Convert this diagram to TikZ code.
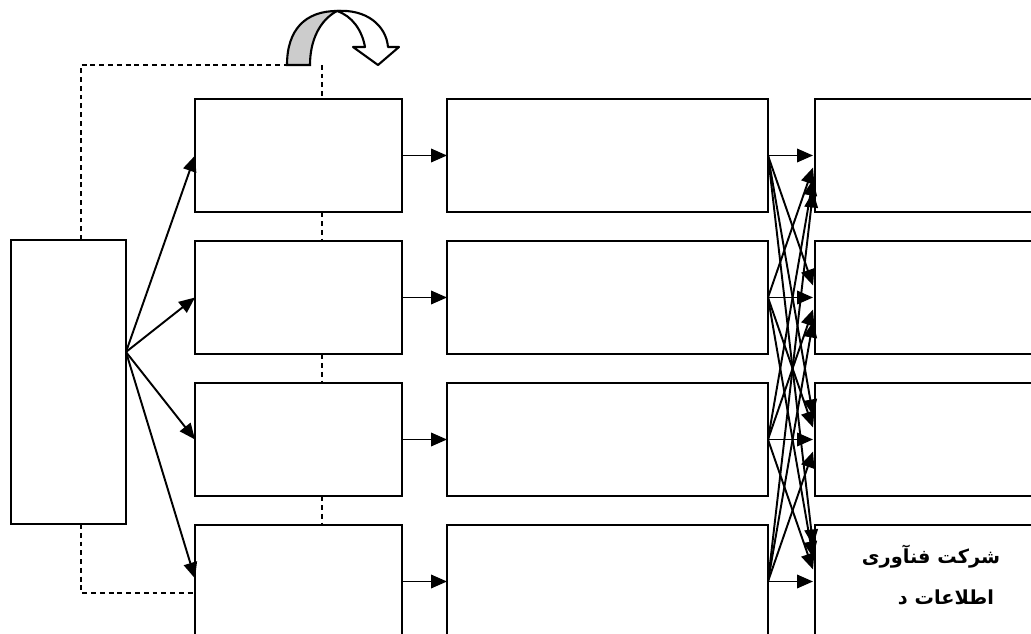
\documentclass[tikz,border=0pt]{standalone}
\usepackage{fontspec}
\newfontfamily\arabicfont[Script=Arabic]{DejaVu Sans}
\TeXXeTstate=1
\usepackage{tikz}
\usetikzlibrary{arrows.meta, positioning, calc}
\definecolor{archgray}{gray}{0.8}

\begin{document}
\begin{tikzpicture}[x=0.02cm, y=-0.02cm,
  box/.style={draw, line width=1.3pt, inner sep=0pt, outer sep=0pt, minimum height=2.27cm},
  arr/.style={line width=1.1pt, -{Triangle[length=3.2mm,width=2.7mm]}},
  dashline/.style={line width=1.5pt, dash pattern=on 2.8pt off 2.2pt}]
\clip (0,0) rectangle (1031,634);
\fill[white] (0,0) rectangle (1031,634);

% boxes
\node[box, minimum width=2.3cm, minimum height=5.68cm] (src) at (68.5,382) {};
\foreach \r/\y in {1/155.5, 2/297.5, 3/439.5, 4/581.5} {
  \node[box, minimum width=4.14cm] (a\r) at (298.5,\y) {};
  \node[box, minimum width=6.42cm] (b\r) at (607.5,\y) {};
  \node[box, minimum width=5cm] (c\r) at (940,\y) {};
}

% text
\node[font=\arabicfont\bfseries\fontsize{11}{13}\selectfont] (t1) at (931,557) {\beginR شرکت فنآوری\endR};
\node[font=\arabicfont\bfseries\fontsize{11}{13}\selectfont] (t2) at (946,597) {\beginR اطلاعات د\endR};

% fan from left box
\coordinate (fan) at ($(src.east)+(0,-30)$);
\foreach \r in {1,...,4} \draw[arr] (fan) -- ($(a\r.west)+(0,{\r==4 ? -3 : 0})$);
\foreach \r in {1,...,4} \draw[arr] (a\r.east) -- (b\r.west);

% cross links
\foreach \i in {1,...,4}
  \foreach \j in {1,...,4}
    \draw[arr] (b\i.east) -- ($(c\j.west)+(-2,{12*(\i-\j)})$);

% dashed loop
\coordinate (top) at ($(src.north west)+(70,-175)$);
\coordinate (bot) at ($(src.south west)+(70,69)$);
\draw[dashline] ($(src.north west)+(70,0)$) -- (top) -- ++(206,0);
\draw[dashline] ($(a1.north west)+(127,-34)$) -- ($(a1.north west)+(127,0)$);
\foreach \r/\s in {1/2, 2/3, 3/4}
  \draw[dashline] ($(a\r.south west)+(127,0)$) -- ($(a\s.north west)+(127,0)$);
\draw[dashline] ($(src.south west)+(70,0)$) -- (bot) -- (bot -| a4.west);

% curved arrow
\draw[line width=1.2pt, fill=archgray] (287,65) .. controls (287,30) and (305,11) .. (337,11)
  .. controls (320,20) and (310,40) .. (310,65) -- cycle;
\draw[line width=1.2pt, fill=white, line join=round] (337,11) .. controls (366,9) and (386,25) .. (388,47)
  -- (399,47) -- (378,65) -- (353,47) -- (365,47) .. controls (362,30) and (352,16) .. (337,11) -- cycle;
\end{tikzpicture}
\end{document}
